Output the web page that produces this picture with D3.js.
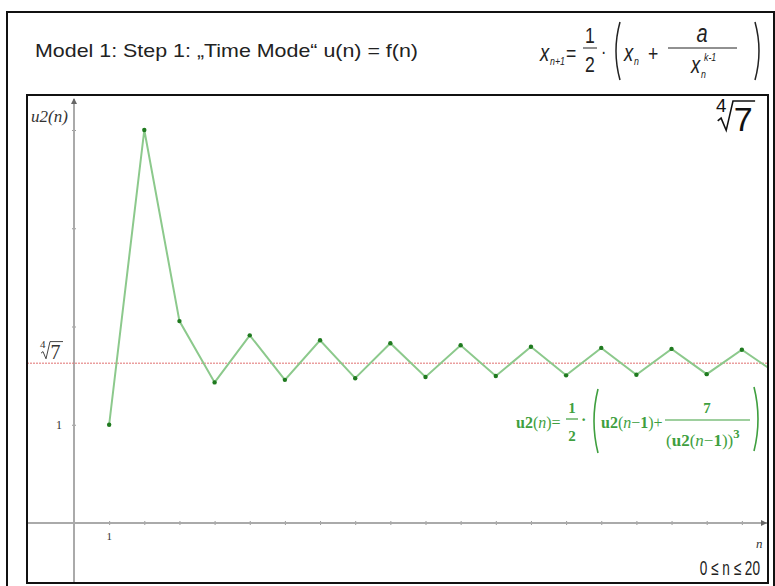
<!DOCTYPE html>
<html>
<head>
  <meta charset="utf-8">
  <title>Model 1: Step 1</title>
  <script src="https://cdn.jsdelivr.net/npm/d3@7"></script>
  <style>
    body { margin: 0; background: #fff; }
    .narrow { font-family: "Liberation Sans Narrow", "Arial Narrow", "Liberation Sans", Arial, sans-serif; }
    .serif { font-family: "Liberation Serif", "Times New Roman", serif; }
  </style>
</head>
<body>
<script>
  // sequence values u2(n), n = 1..21
  const steps = [1, 2, 3, 4, 5, 6, 7, 8, 9, 10, 11, 12, 13, 14, 15, 16, 17, 18, 19, 20, 21];
  const values = [1, 4, 2.055, 1.431, 1.910, 1.457, 1.860, 1.474, 1.830, 1.486, 1.809,
                  1.496, 1.794, 1.503, 1.782, 1.509, 1.772, 1.515, 1.764, 1.519, 1.757];
  const root = 1.6266;          // fourth root of 7
  const xTicks = d3.range(1, 21);
  const yTicks = [1, 2, 3, 4];

  const width = 775, height = 586;
  const frame = {left: 27, top: 95, right: 768, bottom: 583};

  const svg = d3.select('body').append('svg')
    .attr('width', width)
    .attr('height', height);

  // outer box
  svg.append('rect')
    .attr('x', 7).attr('y', 12)
    .attr('width', 767).attr('height', 590)
    .attr('fill', 'none').attr('stroke', '#111').attr('stroke-width', 2);

  // title
  svg.append('text')
    .attr('class', 'narrow')
    .attr('x', 35).attr('y', 57)
    .attr('font-size', 19)
    .attr('fill', '#222')
    .attr('textLength', 383).attr('lengthAdjust', 'spacingAndGlyphs')
    .text('Model 1: Step 1: \u201ETime Mode\u201C  u(n) = f(n)');

  // header formula x(n+1) = 1/2 (x(n) + a / x(n)^(k-1))
  const hf = svg.append('g').attr('class', 'narrow').attr('fill', '#222').attr('font-style', 'italic');
  function put(g, x, y, size, str, anchor, sx) {
    return g.append('text')
      .attr('transform', `translate(${x},${y}) scale(${sx || 0.8},1)`)
      .attr('font-size', size)
      .attr('text-anchor', anchor || 'start').text(str);
  }
  function paren(g, x, y0, y1, dir, color, w) {
    const b = dir * 8;
    g.append('path')
      .attr('d', `M${x},${y0} Q${x - b},${(y0 + y1) / 2} ${x},${y1}`)
      .attr('fill', 'none').attr('stroke', color).attr('stroke-width', w || 1.5);
  }
  put(hf, 540, 61, 23, 'x');
  put(hf, 550, 65, 11, 'n+1');
  put(hf, 566, 61, 22, '=').attr('font-style', 'normal');
  put(hf, 590, 43, 22, '1', 'middle').attr('font-style', 'normal');
  hf.append('line').attr('x1', 583).attr('x2', 597).attr('y1', 48).attr('y2', 48).attr('stroke', '#222');
  put(hf, 590, 72, 22, '2', 'middle').attr('font-style', 'normal');
  put(hf, 601, 58, 20, '\u00B7').attr('font-style', 'normal');
  paren(hf, 620, 22, 80, 1, '#222');
  put(hf, 624, 61, 23, 'x');
  put(hf, 634, 65, 11, 'n');
  put(hf, 648, 61, 22, '+').attr('font-style', 'normal');
  hf.append('line').attr('x1', 668).attr('x2', 737).attr('y1', 48).attr('y2', 48).attr('stroke', '#222');
  put(hf, 702, 42, 25, 'a', 'middle');
  put(hf, 691, 73, 23, 'x');
  put(hf, 701, 78, 11, 'n');
  put(hf, 704, 61, 11, 'k-1');
  paren(hf, 755, 22, 80, -1, '#222');

  // plot frame
  svg.append('rect')
    .attr('x', frame.left).attr('y', frame.top)
    .attr('width', frame.right - frame.left).attr('height', frame.bottom - frame.top)
    .attr('fill', '#fff').attr('stroke', '#111').attr('stroke-width', 2);

  svg.append('clipPath').attr('id', 'clip')
    .append('rect')
    .attr('x', frame.left + 1).attr('y', frame.top + 1)
    .attr('width', frame.right - frame.left - 2).attr('height', frame.bottom - frame.top - 2);

  const x = d3.scaleLinear().domain([0, 20]).range([74, 777]);
  const y = d3.scaleLinear().domain([0, 4]).range([523, 130]);

  const plot = svg.append('g').attr('clip-path', 'url(#clip)');

  // axes
  const xAxis = d3.axisBottom(x).tickValues(xTicks).tickSize(3).tickFormat('');
  const gx = plot.append('g')
    .attr('transform', `translate(0,${y(0)})`)
    .call(xAxis);
  gx.select('.domain').remove();
  gx.selectAll('.tick line').attr('stroke', '#999').attr('y1', -2).attr('y2', 2);
  plot.append('line')
    .attr('x1', frame.left).attr('x2', frame.right)
    .attr('y1', y(0)).attr('y2', y(0))
    .attr('stroke', '#aaa').attr('stroke-width', 2);
  plot.append('path')
    .attr('d', `M${frame.right - 1},${y(0)} l-6,-3 l0,6 z`).attr('fill', '#666');

  const yAxis = d3.axisLeft(y).tickValues(yTicks).tickSize(3).tickFormat('');
  const gy = plot.append('g')
    .attr('transform', `translate(${x(0)},0)`)
    .call(yAxis);
  gy.select('.domain').remove();
  gy.selectAll('.tick line').attr('stroke', '#999').attr('x1', -2).attr('x2', 2);
  plot.append('line')
    .attr('x1', x(0)).attr('x2', x(0))
    .attr('y1', frame.top + 4).attr('y2', frame.bottom)
    .attr('stroke', '#aaa').attr('stroke-width', 2);
  plot.append('path')
    .attr('d', `M${x(0)},${frame.top + 3} l-3,6 l6,0 z`).attr('fill', '#666');

  // tick labels
  svg.append('text').attr('class', 'serif')
    .attr('x', x(1)).attr('y', y(0) + 17)
    .attr('text-anchor', 'middle').attr('font-size', 11).attr('fill', '#333')
    .text(xTicks[0]);
  svg.append('text').attr('class', 'serif')
    .attr('x', 62).attr('y', y(1) + 4)
    .attr('text-anchor', 'end').attr('font-size', 12).attr('fill', '#333')
    .text(yTicks[0]);

  // axis labels
  svg.append('text').attr('class', 'serif')
    .attr('x', 31).attr('y', 122)
    .attr('font-size', 17).attr('font-style', 'italic').attr('fill', '#333')
    .text('u2(n)');
  svg.append('text').attr('class', 'serif')
    .attr('x', 756).attr('y', 548)
    .attr('font-size', 13).attr('font-style', 'italic').attr('fill', '#333')
    .text('n');
  put(svg.append('g').attr('class', 'narrow').attr('fill', '#222'), 760, 575, 20, '0 \u2264 n \u2264 20', 'end', 0.68);

  // reference line at fourth root of 7
  plot.append('line')
    .attr('x1', frame.left).attr('x2', frame.right)
    .attr('y1', y(root)).attr('y2', y(root))
    .attr('stroke', '#e07070').attr('stroke-width', 1)
    .attr('stroke-dasharray', '2,1');

  function rootLabel(g, xx, yy, s, color) {
    const t = g.append('g').attr('transform', `translate(${xx},${yy})`);
    t.append('text').attr('x', 0).attr('y', -s * 0.55).attr('font-size', s * 0.55).attr('fill', color).text('4');
    t.append('path')
      .attr('d', `M${s * 0.05},${-s * 0.3} L${s * 0.15},${-s * 0.38} L${s * 0.3},${-s * 0.02} L${s * 0.5},${-s * 0.88} L${s * 1.15},${-s * 0.88}`)
      .attr('fill', 'none').attr('stroke', color).attr('stroke-width', s / 22);
    t.append('text').attr('x', s * 0.52).attr('y', 0).attr('font-size', s).attr('fill', color).text('7');
  }
  rootLabel(svg.append('g').attr('class', 'serif'), 40, y(root) - 4, 20, '#333');
  rootLabel(svg.append('g').attr('class', 'narrow'), 716, 131, 34, '#111');

  // sequence
  const line = d3.line()
    .x((d, i) => x(steps[i]))
    .y(d => y(d));
  plot.append('path')
    .datum(values)
    .attr('d', line)
    .attr('fill', 'none')
    .attr('stroke', '#8cc98c')
    .attr('stroke-width', 2);
  plot.selectAll('circle.pt')
    .data(values)
    .enter().append('circle')
    .attr('class', 'pt')
    .attr('cx', (d, i) => x(steps[i]))
    .attr('cy', d => y(d))
    .attr('r', 2.2)
    .attr('fill', '#1f7a1f');

  // recursion formula in green
  const green = '#3f9f3f';
  const gf = svg.append('g').attr('class', 'serif').attr('fill', green);
  function gtext(xx, yy, size, parts, anchor) {
    const t = gf.append('text').attr('x', xx).attr('y', yy).attr('font-size', size)
      .attr('text-anchor', anchor || 'start');
    parts.forEach(p => {
      const s = t.append('tspan')
        .attr('font-weight', p[1] === 'b' || p[1] === 's' ? 'bold' : 'normal')
        .attr('font-style', p[1] === 'i' ? 'italic' : 'normal')
        .text(p[0]);
      if (p[1] === 's') s.attr('dy', -8).attr('font-size', size * 0.75);
    });
    return t;
  }
  gtext(516, 428, 16, [['u2', 'b'], ['(', ''], ['n', 'i'], [')=', '']]);
  gtext(572, 413, 15, [['1', 'b']], 'middle');
  gf.append('line').attr('x1', 566).attr('x2', 578).attr('y1', 419).attr('y2', 419).attr('stroke', green).attr('stroke-width', 1.2);
  gtext(572, 441, 15, [['2', 'b']], 'middle');
  gtext(581, 425, 16, [['\u00B7', 'b']]);
  paren(gf, 598, 389, 453, 1, green, 1.6);
  gtext(601, 428, 16, [['u2', 'b'], ['(', ''], ['n', 'i'], ['\u2212', ''], ['1', 'b'], [')+', '']]);
  gf.append('line').attr('x1', 665).attr('x2', 750).attr('y1', 420).attr('y2', 420).attr('stroke', green).attr('stroke-width', 1.2);
  gtext(707, 413, 15, [['7', 'b']], 'middle');
  gtext(666, 446, 17, [['(', ''], ['u2', 'b'], ['(', ''], ['n', 'i'], ['\u2212', ''], ['1', 'b'], ['))', ''], ['3', 's']]);
  paren(gf, 754, 387, 451, -1, green, 1.6);
</script>
</body>
</html>
